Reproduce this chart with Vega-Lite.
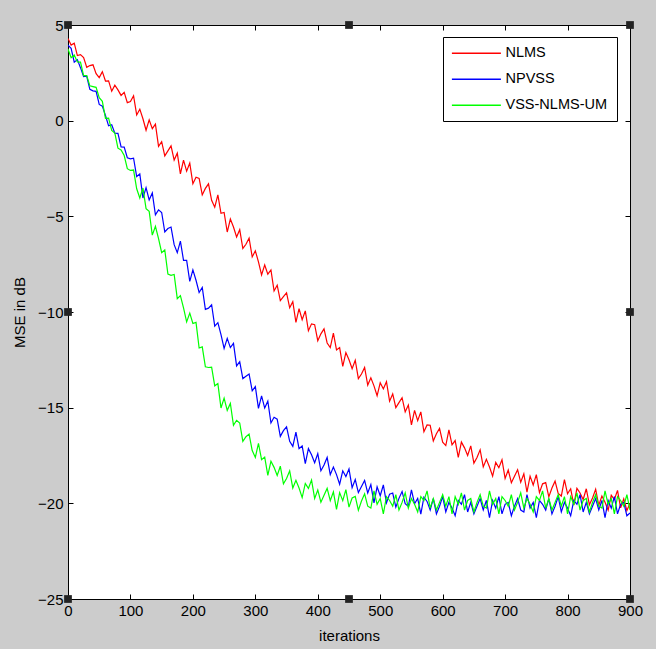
{
  "$schema": "https://vega.github.io/schema/vega-lite/v6.json",
  "width": 562,
  "height": 574,
  "autosize": {"type": "none"},
  "padding": {"left": 68, "top": 25, "right": 26, "bottom": 50},
  "background": "#cccccc",
  "config": {
    "view": {"fill": "white", "stroke": "black", "strokeWidth": 1},
    "font": "Liberation Sans",
    "axis": {
      "domain": false,
      "grid": false,
      "labelFlush": false,
      "tickColor": "black",
      "tickSize": -5,
      "tickWidth": 1,
      "labelColor": "black",
      "labelFont": "Liberation Sans",
      "labelFontSize": 15,
      "titleFont": "Liberation Sans",
      "titleFontSize": 15,
      "titleFontWeight": "normal",
      "titleColor": "black"
    }
  },
  "datasets": {
    "handles": [
      {"hx":0,"hy":5},{"hx":450,"hy":5},{"hx":900,"hy":5},
      {"hx":0,"hy":-10},{"hx":900,"hy":-10},
      {"hx":0,"hy":-25},{"hx":450,"hy":-25},{"hx":900,"hy":-25}
    ],
    "mse": [
      {"i":0,"a":4.3,"b":3.95,"c":3.75},{"i":5,"a":3.95,"b":3.78,"c":3.29},{"i":10,"a":4.05,"b":3.06,"c":3.43},{"i":15,"a":3.4,"b":3.19,"c":3.07},{"i":20,"a":3.45,"b":2.77,"c":3.06},
      {"i":25,"a":3.3,"b":2.3,"c":2.35},{"i":30,"a":2.79,"b":2.32,"c":2.36},{"i":35,"a":2.88,"b":1.64,"c":1.82},{"i":40,"a":2.92,"b":1.56,"c":1.78},{"i":45,"a":2.46,"b":1.53,"c":1.74},
      {"i":50,"a":2.25,"b":0.85,"c":1.2},{"i":55,"a":2.56,"b":0.76,"c":1.01},{"i":60,"a":2.07,"b":0.27,"c":0.12},{"i":65,"a":2.08,"b":-0.27,"c":0.13},{"i":70,"a":1.54,"b":-0.21,"c":-0.51},
      {"i":75,"a":1.85,"b":-0.65,"c":-0.65},{"i":80,"a":1.61,"b":-0.66,"c":-1.44},{"i":85,"a":1.32,"b":-1.37,"c":-1.53},{"i":90,"a":1.48,"b":-1.38,"c":-1.82},{"i":95,"a":0.94,"b":-1.94,"c":-2.51},
      {"i":100,"a":1.0,"b":-2.0,"c":-2.6},{"i":105,"a":1.3,"b":-1.96,"c":-2.58},{"i":110,"a":0.3,"b":-2.92,"c":-3.56},{"i":115,"a":0.6,"b":-2.78,"c":-4.04},{"i":120,"a":0.1,"b":-4.04,"c":-3.52},
      {"i":125,"a":-0.5,"b":-3.5,"c":-4.6},{"i":130,"a":0.04,"b":-4.14,"c":-4.74},{"i":135,"a":-0.42,"b":-3.78,"c":-5.98},{"i":140,"a":-0.18,"b":-4.92,"c":-5.52},{"i":145,"a":-1.34,"b":-4.66,"c":-6.16},
      {"i":150,"a":-1.1,"b":-4.8,"c":-6.9},{"i":155,"a":-1.84,"b":-5.82,"c":-6.76},{"i":160,"a":-1.58,"b":-5.64,"c":-8.02},{"i":165,"a":-1.32,"b":-5.56,"c":-8.08},{"i":170,"a":-2.06,"b":-6.48,"c":-8.04},
      {"i":175,"a":-1.7,"b":-6.9,"c":-9.3},{"i":180,"a":-2.78,"b":-6.3,"c":-9.14},{"i":185,"a":-2.06,"b":-7.3,"c":-9.78},{"i":190,"a":-2.64,"b":-7.3,"c":-10.52},{"i":195,"a":-2.22,"b":-8.4,"c":-10.06},
      {"i":200,"a":-3.3,"b":-7.8,"c":-10.6},{"i":205,"a":-2.96,"b":-8.34,"c":-10.54},{"i":210,"a":-3.02,"b":-8.98,"c":-11.88},{"i":215,"a":-3.88,"b":-8.72,"c":-11.82},{"i":220,"a":-3.54,"b":-9.86,"c":-12.86},
      {"i":225,"a":-3.3,"b":-9.8,"c":-12.9},{"i":230,"a":-4.16,"b":-9.62,"c":-12.88},{"i":235,"a":-4.52,"b":-10.74,"c":-13.86},{"i":240,"a":-3.88,"b":-10.56,"c":-13.74},{"i":245,"a":-4.84,"b":-11.18,"c":-15.02},
      {"i":250,"a":-4.8,"b":-11.9,"c":-14.5},{"i":255,"a":-5.82,"b":-11.38,"c":-15.14},{"i":260,"a":-5.14,"b":-11.86,"c":-14.78},{"i":265,"a":-5.56,"b":-11.64,"c":-15.92},{"i":270,"a":-6.08,"b":-12.82,"c":-15.66},
      {"i":275,"a":-5.7,"b":-12.6,"c":-15.8},{"i":280,"a":-6.68,"b":-13.48,"c":-16.76},{"i":285,"a":-6.46,"b":-13.36,"c":-16.52},{"i":290,"a":-6.14,"b":-13.24,"c":-16.38},{"i":295,"a":-7.12,"b":-14.12,"c":-17.24},
      {"i":300,"a":-6.8,"b":-13.9,"c":-17.6},{"i":305,"a":-7.38,"b":-15.04,"c":-16.86},{"i":310,"a":-8.06,"b":-14.38,"c":-17.72},{"i":315,"a":-7.54,"b":-15.02,"c":-17.58},{"i":320,"a":-8.02,"b":-14.66,"c":-18.54},
      {"i":325,"a":-7.8,"b":-15.8,"c":-17.8},{"i":330,"a":-8.9,"b":-15.5,"c":-18.12},{"i":335,"a":-8.6,"b":-15.6,"c":-18.54},{"i":340,"a":-9.4,"b":-16.5,"c":-18.06},{"i":345,"a":-9.2,"b":-16.2,"c":-18.98},
      {"i":350,"a":-9.0,"b":-16.0,"c":-18.7},{"i":355,"a":-9.78,"b":-16.76,"c":-18.3},{"i":360,"a":-9.46,"b":-17.02,"c":-19.2},{"i":365,"a":-10.54,"b":-16.28,"c":-18.8},{"i":370,"a":-9.82,"b":-17.14,"c":-19.2},
      {"i":375,"a":-10.4,"b":-17.0,"c":-19.7},{"i":380,"a":-9.94,"b":-17.92,"c":-18.96},{"i":385,"a":-10.98,"b":-17.14,"c":-19.22},{"i":390,"a":-10.62,"b":-17.46,"c":-18.78},{"i":395,"a":-10.66,"b":-17.88,"c":-19.74},
      {"i":400,"a":-11.5,"b":-17.4,"c":-19.3},{"i":405,"a":-11.14,"b":-18.3,"c":-19.94},{"i":410,"a":-10.88,"b":-18.0,"c":-19.58},{"i":415,"a":-11.62,"b":-17.6,"c":-19.22},{"i":420,"a":-11.86,"b":-18.5,"c":-19.86},
      {"i":425,"a":-11.1,"b":-18.1,"c":-19.4},{"i":430,"a":-11.98,"b":-18.5,"c":-20.32},{"i":435,"a":-11.86,"b":-19.0,"c":-19.44},{"i":440,"a":-12.84,"b":-18.3,"c":-19.86},{"i":445,"a":-12.12,"b":-18.6,"c":-19.28},
      {"i":450,"a":-12.5,"b":-18.2,"c":-20.2},{"i":455,"a":-12.96,"b":-19.18,"c":-19.72},{"i":460,"a":-12.52,"b":-18.76,"c":-19.64},{"i":465,"a":-13.48,"b":-19.44,"c":-20.36},{"i":470,"a":-13.24,"b":-19.12,"c":-19.88},
      {"i":475,"a":-12.9,"b":-18.8,"c":-19.5},{"i":480,"a":-13.82,"b":-19.46,"c":-20.15},{"i":485,"a":-13.44,"b":-19.02,"c":-20.25},{"i":490,"a":-13.86,"b":-19.98,"c":-19.35},{"i":495,"a":-14.38,"b":-19.14,"c":-20.05},
      {"i":500,"a":-13.7,"b":-19.6,"c":-19.75},{"i":505,"a":-14.02,"b":-19.04,"c":-20.55},{"i":510,"a":-13.64,"b":-19.98,"c":-19.65},{"i":515,"a":-14.66,"b":-19.52,"c":-19.85},{"i":520,"a":-14.28,"b":-19.46,"c":-20.15},
      {"i":525,"a":-15.0,"b":-20.2,"c":-19.55},{"i":530,"a":-14.74,"b":-19.74,"c":-20.35},{"i":535,"a":-14.48,"b":-19.38,"c":-19.95},{"i":540,"a":-15.22,"b":-20.02,"c":-19.45},{"i":545,"a":-14.86,"b":-20.16,"c":-20.25},
      {"i":550,"a":-15.9,"b":-19.3,"c":-19.75},{"i":555,"a":-15.14,"b":-20.02,"c":-20.05},{"i":560,"a":-15.68,"b":-19.74,"c":-20.45},{"i":565,"a":-15.22,"b":-20.56,"c":-19.65},{"i":570,"a":-16.26,"b":-19.68,"c":-19.85},
      {"i":575,"a":-15.9,"b":-19.9,"c":-19.35},{"i":580,"a":-15.92,"b":-20.35,"c":-20.25},{"i":585,"a":-16.74,"b":-19.75,"c":-19.75},{"i":590,"a":-16.36,"b":-20.55,"c":-20.35},{"i":595,"a":-16.08,"b":-20.15,"c":-19.95},
      {"i":600,"a":-16.8,"b":-19.65,"c":-19.55},{"i":605,"a":-16.98,"b":-20.45,"c":-20.15},{"i":610,"a":-16.16,"b":-19.95,"c":-19.65},{"i":615,"a":-16.94,"b":-20.25,"c":-20.55},{"i":620,"a":-16.72,"b":-20.65,"c":-19.65},
      {"i":625,"a":-17.6,"b":-19.85,"c":-20.05},{"i":630,"a":-16.8,"b":-20.05,"c":-19.45},{"i":635,"a":-17.1,"b":-19.55,"c":-20.35},{"i":640,"a":-17.5,"b":-20.45,"c":-19.85},{"i":645,"a":-17.0,"b":-19.95,"c":-19.75},
      {"i":650,"a":-17.9,"b":-20.55,"c":-20.45},{"i":655,"a":-17.6,"b":-20.15,"c":-19.95},{"i":660,"a":-17.2,"b":-19.75,"c":-19.55},{"i":665,"a":-18.1,"b":-20.35,"c":-20.15},{"i":670,"a":-17.7,"b":-19.85,"c":-20.25},
      {"i":675,"a":-18.1,"b":-20.75,"c":-19.35},{"i":680,"a":-18.58,"b":-19.85,"c":-20.05},{"i":685,"a":-17.86,"b":-20.25,"c":-19.75},{"i":690,"a":-18.14,"b":-19.65,"c":-20.55},{"i":695,"a":-17.72,"b":-20.55,"c":-19.65},
      {"i":700,"a":-18.7,"b":-20.05,"c":-19.85},{"i":705,"a":-18.26,"b":-19.95,"c":-20.15},{"i":710,"a":-18.92,"b":-20.65,"c":-19.55},{"i":715,"a":-18.58,"b":-20.15,"c":-20.35},{"i":720,"a":-18.24,"b":-19.75,"c":-19.95},
      {"i":725,"a":-18.9,"b":-20.35,"c":-19.45},{"i":730,"a":-18.46,"b":-20.45,"c":-20.25},{"i":735,"a":-19.42,"b":-19.55,"c":-19.75},{"i":740,"a":-18.58,"b":-20.25,"c":-20.05},{"i":745,"a":-19.04,"b":-19.95,"c":-20.45},
      {"i":750,"a":-18.5,"b":-20.75,"c":-19.65},{"i":755,"a":-19.44,"b":-19.85,"c":-19.85},{"i":760,"a":-18.98,"b":-20.05,"c":-19.35},{"i":765,"a":-18.92,"b":-20.35,"c":-20.25},{"i":770,"a":-19.66,"b":-19.75,"c":-19.75},
      {"i":775,"a":-19.2,"b":-20.55,"c":-20.35},{"i":780,"a":-18.84,"b":-20.15,"c":-19.95},{"i":785,"a":-19.48,"b":-19.65,"c":-19.55},{"i":790,"a":-19.62,"b":-20.45,"c":-20.15},{"i":795,"a":-18.76,"b":-19.95,"c":-19.65},
      {"i":800,"a":-19.5,"b":-20.25,"c":-20.55},{"i":805,"a":-19.24,"b":-20.65,"c":-19.65},{"i":810,"a":-20.08,"b":-19.85,"c":-20.05},{"i":815,"a":-19.22,"b":-20.05,"c":-19.45},{"i":820,"a":-19.46,"b":-19.55,"c":-20.35},
      {"i":825,"a":-19.8,"b":-20.45,"c":-19.85},{"i":830,"a":-19.24,"b":-19.95,"c":-19.75},{"i":835,"a":-20.08,"b":-20.55,"c":-20.45},{"i":840,"a":-19.72,"b":-20.15,"c":-19.95},{"i":845,"a":-19.26,"b":-19.75,"c":-19.55},
      {"i":850,"a":-20.1,"b":-20.35,"c":-20.15},{"i":855,"a":-19.62,"b":-19.85,"c":-20.25},{"i":860,"a":-19.94,"b":-20.75,"c":-19.35},{"i":865,"a":-20.36,"b":-19.85,"c":-20.05},{"i":870,"a":-19.58,"b":-20.25,"c":-19.75},
      {"i":875,"a":-19.8,"b":-19.65,"c":-20.55},{"i":880,"a":-19.32,"b":-20.55,"c":-19.65},{"i":885,"a":-20.24,"b":-20.05,"c":-19.85},{"i":890,"a":-19.76,"b":-19.95,"c":-20.15},{"i":895,"a":-20.38,"b":-20.65,"c":-19.55},
      {"i":900,"a":-20.0,"b":-20.5,"c":-20.35}
    ]
  },
  "layer": [
    {
      "data": {"name": "mse"},
      "transform": [{"fold": ["a", "b", "c"], "as": ["s", "v"]}],
      "mark": {"type": "line", "strokeWidth": 1.2, "clip": true},
      "encoding": {
        "x": {
          "field": "i", "type": "quantitative",
          "scale": {"domain": [0, 900], "nice": false, "zero": false},
          "axis": {"orient": "bottom", "values": [0,100,200,300,400,500,600,700,800,900], "title": "iterations", "labelPadding": 9, "titlePadding": 10}
        },
        "y": {
          "field": "v", "type": "quantitative",
          "scale": {"domain": [-25, 5], "nice": false, "zero": false},
          "axis": {"orient": "left", "values": [-25,-20,-15,-10,-5,0,5], "title": "MSE in dB", "labelPadding": 10, "titlePadding": 10}
        },
        "color": {
          "field": "s", "type": "nominal",
          "scale": {"domain": ["a", "b", "c"], "range": ["#ff0000", "#0000ff", "#00ff00"]},
          "legend": {
            "title": null,
            "orient": "none",
            "legendX": 375,
            "legendY": 12,
            "fillColor": "white",
            "strokeColor": "black",
            "padding": 9,
            "symbolType": "M-1.2,0H6.8",
            "symbolSize": 150,
            "symbolStrokeWidth": 1.5,
            "labelOffset": 39,
            "labelFont": "Liberation Sans",
            "labelFontSize": 14.5,
            "labelColor": "black",
            "rowPadding": 11,
            "labelExpr": "datum.label == 'a' ? 'NLMS' : datum.label == 'b' ? 'NPVSS' : 'VSS-NLMS-UM'"
          }
        }
      }
    },
    {
      "data": {"name": "mse"},
      "transform": [{"fold": ["a", "b", "c"], "as": ["s", "v"]}],
      "mark": {"type": "point", "opacity": 0},
      "encoding": {
        "x": {
          "field": "i", "type": "quantitative",
          "axis": {"orient": "top", "values": [0,100,200,300,400,500,600,700,800,900], "labels": false, "title": null}
        },
        "y": {
          "field": "v", "type": "quantitative",
          "axis": {"orient": "right", "values": [-25,-20,-15,-10,-5,0,5], "labels": false, "title": null}
        }
      }
    },
    {
      "data": {"name": "handles"},
      "mark": {"type": "square", "filled": true, "color": "#222222", "size": 60, "opacity": 1, "clip": false},
      "encoding": {
        "x": {"field": "hx", "type": "quantitative", "axis": null},
        "y": {"field": "hy", "type": "quantitative", "axis": null}
      }
    }
  ],
  "resolve": {"axis": {"x": "independent", "y": "independent"}}
}
